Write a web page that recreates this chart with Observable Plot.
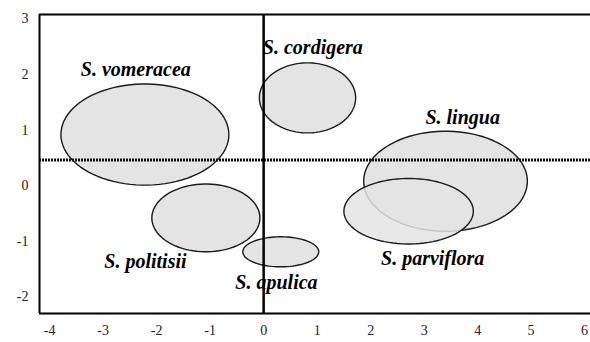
<!DOCTYPE html>
<html>
<head>
<meta charset="utf-8">
<script src="https://cdn.jsdelivr.net/npm/d3@7"></script>
<script src="https://cdn.jsdelivr.net/npm/@observablehq/plot@0.6"></script>
<style>
  html, body { margin: 0; padding: 0; background: #fff; }
  svg { display: block; }
</style>
</head>
<body>
<div id="chart"></div>
<script>
// Species (drawing order) and ellipse parameters
const species  = ["S. vomeracea", "S. cordigera", "S. politisii", "S. apulica", "S. lingua", "S. parviflora"];
const centerX  = [-2.22, 0.82, -1.08, 0.32, 3.40, 2.71];
const centerY  = [0.92, 1.58, -0.58, -1.19, 0.08, -0.46];
const radiusX  = [1.57, 0.90, 1.01, 0.71, 1.53, 1.21];
const radiusY  = [0.91, 0.63, 0.61, 0.27, 0.90, 0.59];
const labelX   = [-2.39, 0.92, -2.21, 0.24, 3.72, 3.16];
const labelY   = [2.09, 2.48, -1.36, -1.75, 1.23, -1.32];

const xTicks = [-4, -3, -2, -1, 0, 1, 2, 3, 4, 5, 6];
const yTicks = [-2, -1, 0, 1, 2, 3];
const xDomain = [-4.19, 6.11];
const yDomain = [-2.30, 3.08];
const hLineY = 0.46;

// ellipse outlines built from centre and radii
const outline = [];
species.forEach((s, i) => {
  for (let a = 0; a < 360; a += 4) {
    const t = a * Math.PI / 180;
    outline.push({s, x: centerX[i] + radiusX[i] * Math.cos(t), y: centerY[i] + radiusY[i] * Math.sin(t)});
  }
});
const labels = species.map((s, i) => ({s, x: labelX[i], y: labelY[i]}));

const ellipseMarks = species.map(s => Plot.line(outline.filter(d => d.s === s), {
  x: "x", y: "y", curve: "linear-closed",
  fill: "#e4e4e4",
  fillOpacity: s === "S. parviflora" ? 0.85 : 1,
  stroke: "#1a1a1a", strokeWidth: 1.4
}));

const chart = Plot.plot({
  width: 590,
  height: 342,
  marginLeft: 39,
  marginRight: 0,
  marginTop: 14,
  marginBottom: 29,
  style: {fontFamily: "Liberation Serif", background: "#fff"},
  x: {domain: xDomain, ticks: xTicks},
  y: {domain: yDomain, ticks: yTicks},
  marks: [
    ...ellipseMarks,
    Plot.ruleY([hLineY], {stroke: "#111", strokeWidth: 3, strokeDasharray: "2,1"}),
    Plot.ruleX([0], {stroke: "#000", strokeWidth: 2.5}),
    Plot.ruleY([yDomain[1]], {stroke: "#000", strokeWidth: 2}),
    Plot.ruleY([yDomain[0]], {stroke: "#000", strokeWidth: 2}),
    Plot.ruleX([xDomain[0]], {stroke: "#000", strokeWidth: 2}),
    Plot.text(labels, {
      x: "x", y: "y", text: "s",
      fontSize: 20, fontStyle: "italic", fontWeight: "bold",
      fontFamily: "Liberation Serif", fill: "#000"
    }),
    Plot.axisX({ticks: xTicks, tickSize: 0, tickPadding: 12, fontSize: 14, color: "#222", label: null, tickFormat: d => String(d)}),
    Plot.axisY({ticks: yTicks, tickSize: 0, tickPadding: 11, fontSize: 14, color: "#222", label: null, tickFormat: d => String(d)})
  ]
});
document.getElementById("chart").appendChild(chart);
</script>
</body>
</html>
